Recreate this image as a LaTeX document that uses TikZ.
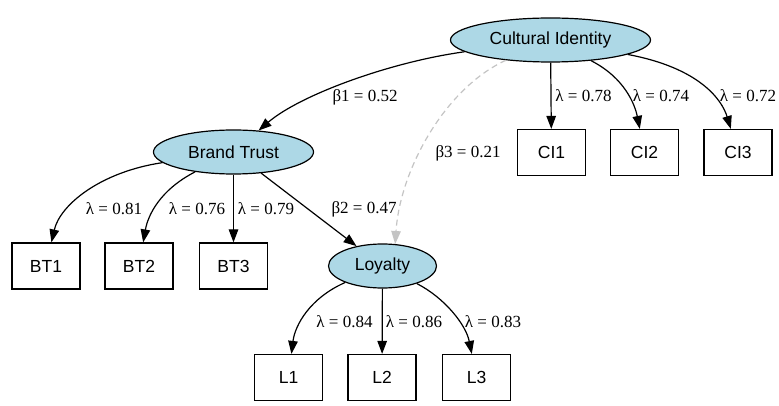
\documentclass[tikz,border=0pt]{standalone}
\usepackage{fontspec}
\setmainfont{Liberation Serif}
\newfontfamily\nodefont{Liberation Sans}
\usetikzlibrary{shapes.geometric,arrows.meta}
\definecolor{latentfill}{HTML}{ADD8E6}
\definecolor{dashgray}{HTML}{C4C4C4}
\tikzset{
  latent/.style={ellipse, draw=black, fill=latentfill, line width=1.2pt, inner sep=0pt,
    minimum height=44pt, font=\nodefont\fontsize{17.5}{20}\selectfont},
  indicator/.style={rectangle, draw=black, fill=white, line width=1.2pt, inner sep=0pt,
    minimum width=68pt, minimum height=46pt, font=\nodefont\fontsize{17.5}{20}\selectfont},
  conn/.style={line width=1.2pt, draw=black, -{Triangle[length=13pt,width=9.5pt]}},
  dconn/.style={line width=1.2pt, draw=dashgray, dash pattern=on 6pt off 4pt,
    -{Triangle[length=13pt,width=9.5pt,fill=dashgray]}},
  elabel/.style={inner sep=0pt, font=\fontsize{17}{20}\selectfont}
}
\begin{document}
\begin{tikzpicture}[x=1pt,y=-1pt]
\useasboundingbox (0,0) rectangle (779,406);
% latent variables
\node[latent, minimum width=200pt] (ci) at (550.5,40) {Cultural Identity};
\node[latent, minimum width=160pt] (bt) at (233.5,152) {Brand Trust};
\node[latent, minimum width=108pt] (loy) at (382.5,266) {Loyalty};
% indicators
\node[indicator] (ci1) at (551.5,152.5) {CI1};
\node[indicator] (ci2) at (644.5,152.5) {CI2};
\node[indicator] (ci3) at (738,152.5) {CI3};
\node[indicator] (bt1) at (46,266) {BT1};
\node[indicator] (bt2) at (139,266) {BT2};
\node[indicator] (bt3) at (233.5,266) {BT3};
\node[indicator] (l1) at (288.5,377.5) {L1};
\node[indicator] (l2) at (382,377.5) {L2};
\node[indicator] (l3) at (476.5,377.5) {L3};
% structural paths
\draw[conn] (ci) .. controls (390,62) and (300,95) .. (bt);
\draw[conn] (bt) -- (loy);
\draw[dconn] (ci) .. controls (445,88) and (400,170) .. (loy.60);
% loadings
\draw[conn] (ci) -- (ci1);
\draw[conn] (ci) .. controls (625,78) and (635,105) .. (ci2);
\draw[conn] (ci) .. controls (700,68) and (722,100) .. (ci3);
\draw[conn] (bt) .. controls (100,172) and (60,205) .. (bt1);
\draw[conn] (bt) .. controls (160,190) and (148,215) .. (bt2);
\draw[conn] (bt) -- (bt3);
\draw[conn] (loy) .. controls (310,298) and (295,325) .. (l1);
\draw[conn] (loy) -- (l2);
\draw[conn] (loy) .. controls (445,298) and (466,325) .. (l3);
% labels
\node[elabel] (lb1) at (365,97) {β1 = 0.52};
\node[elabel] (lb3) at (468,153) {β3 = 0.21};
\node[elabel] (lb2) at (364,209) {β2 = 0.47};
\node[elabel] (lci1) at (583.5,96) {λ = 0.78};
\node[elabel] (lci2) at (661,96) {λ = 0.74};
\node[elabel] (lci3) at (748,96) {λ = 0.72};
\node[elabel] (lbt1) at (114,209) {λ = 0.81};
\node[elabel] (lbt2) at (197,209) {λ = 0.76};
\node[elabel] (lbt3) at (266,209) {λ = 0.79};
\node[elabel] (ll1) at (344.5,322) {λ = 0.84};
\node[elabel] (ll2) at (414,322) {λ = 0.86};
\node[elabel] (ll3) at (493,322) {λ = 0.83};
\end{tikzpicture}
\end{document}
